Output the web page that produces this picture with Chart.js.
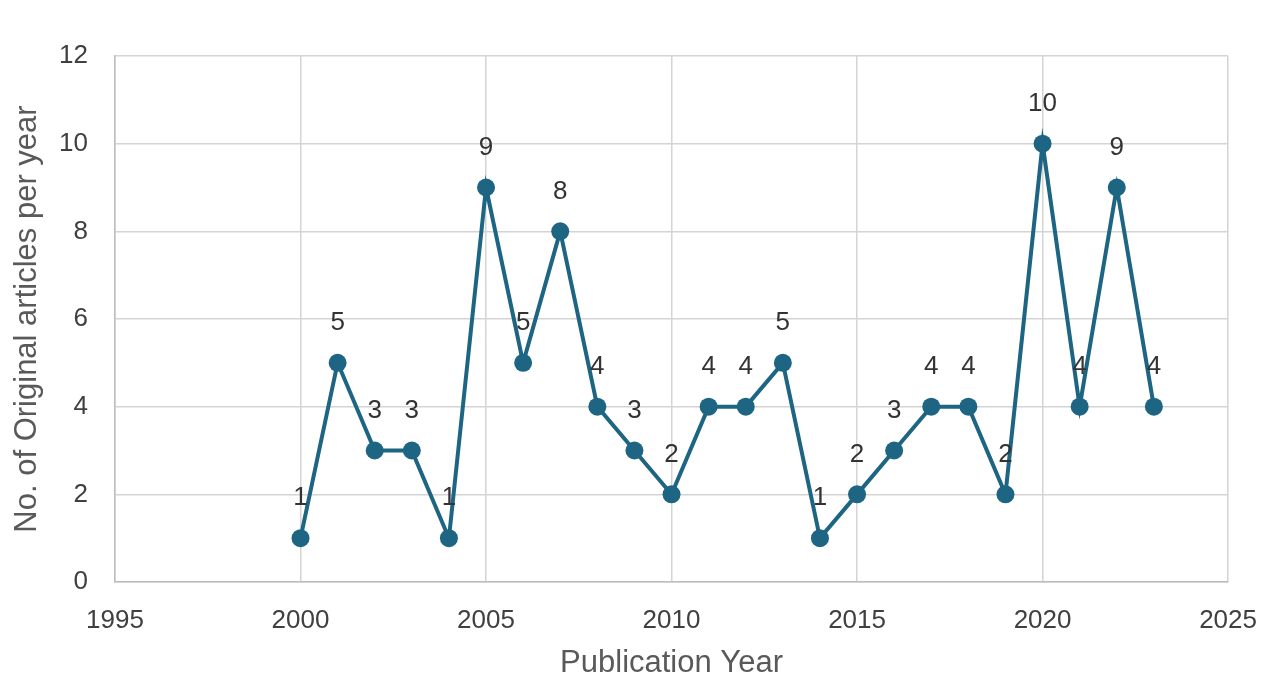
<!DOCTYPE html>
<html>
<head>
<meta charset="utf-8">
<script src="https://cdn.jsdelivr.net/npm/chart.js@4.4.1/dist/chart.umd.min.js"></script>
<style>
  html, body { margin: 0; padding: 0; background: #fff; }
  #wrap { width: 1280px; height: 685px; }
</style>
</head>
<body>
<div id="wrap"><canvas id="plot1" width="1280" height="685"></canvas></div>
<script>
const years = [2000, 2001, 2002, 2003, 2004, 2005, 2006, 2007, 2008, 2009, 2010, 2011,
               2012, 2013, 2014, 2015, 2016, 2017, 2018, 2019, 2020, 2021, 2022, 2023];
const counts = [1, 5, 3, 3, 1, 9, 5, 8, 4, 3, 2, 4, 4, 5, 1, 2, 3, 4, 4, 2, 10, 4, 9, 4];
const xTicks = [1995, 2000, 2005, 2010, 2015, 2020, 2025];
const yTicks = [0, 2, 4, 6, 8, 10, 12];

const lineColor = "#1d6583";
const fontFamily = "'Liberation Sans', Arial, sans-serif";

// value labels over each point
const pointLabels = {
    id: "pointLabels",
    afterDatasetsDraw(chart) {
        const ctx = chart.ctx;
        const meta = chart.getDatasetMeta(0);
        ctx.save();
        ctx.font = "26px " + fontFamily;
        ctx.fillStyle = "#333333";
        ctx.textAlign = "center";
        ctx.textBaseline = "middle";
        meta.data.forEach((pt, i) => {
            ctx.fillText(String(counts[i]), pt.x, pt.y - 40);
        });
        ctx.restore();
    }
};

new Chart(document.getElementById("plot1"), {
    type: "line",
    data: {
        datasets: [{
            label: "Articles",
            data: years.map((y, i) => ({ x: y, y: counts[i] })),
            borderColor: lineColor,
            backgroundColor: lineColor,
            borderWidth: 4,
            pointRadius: 9,
            pointBorderWidth: 0,
            pointBackgroundColor: lineColor,
            tension: 0
        }]
    },
    options: {
        responsive: false,
        animation: false,
        layout: { padding: { left: 0, right: 46, top: 56, bottom: 0 } },
        plugins: {
            legend: { display: false },
            tooltip: { enabled: false }
        },
        scales: {
            x: {
                type: "linear",
                min: 1995,
                max: 2025,
                afterBuildTicks: s => { s.ticks = xTicks.map(v => ({ value: v })); },
                afterFit: s => { s.height = 103; },
                grid: { color: "#d4d4d4", lineWidth: 1.5, drawTicks: false },
                border: { color: "#bdbdbd", width: 1.5 },
                ticks: {
                    padding: 23,
                    color: "#404040",
                    font: { family: fontFamily, size: 26 },
                    callback: v => String(v)
                },
                title: {
                    display: true,
                    text: "Publication Year",
                    color: "#595959",
                    font: { family: fontFamily, size: 31 },
                    padding: { top: 0, bottom: 3 }
                }
            },
            y: {
                min: 0,
                max: 12,
                afterBuildTicks: s => { s.ticks = yTicks.map(v => ({ value: v })); },
                afterFit: s => { s.width = 115; },
                grid: { color: "#d4d4d4", lineWidth: 1.5, drawTicks: false },
                border: { color: "#bdbdbd", width: 1.5 },
                ticks: {
                    padding: 27,
                    color: "#404040",
                    font: { family: fontFamily, size: 26 }
                },
                title: {
                    display: true,
                    text: "No. of Original articles per year",
                    color: "#595959",
                    font: { family: fontFamily, size: 31 },
                    padding: { top: 9, bottom: 0 }
                }
            }
        }
    },
    plugins: [pointLabels]
});
</script>
</body>
</html>
